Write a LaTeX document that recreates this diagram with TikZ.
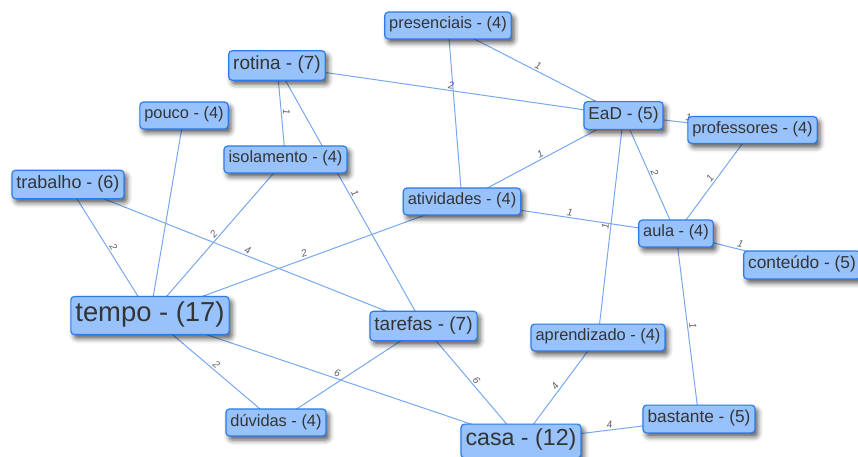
\documentclass[tikz,border=0pt]{standalone}
\usepackage{fontspec}
\setmainfont{Liberation Sans}
\usetikzlibrary{backgrounds,shadows.blur}

\definecolor{nodefill}{HTML}{97C2FC}
\definecolor{nodeborder}{HTML}{2B7CE9}
\definecolor{nodetext}{HTML}{343434}
\definecolor{edgeblue}{HTML}{78A8EE}
\definecolor{wtgray}{HTML}{606060}

\begin{document}
\begin{tikzpicture}[x=1pt, y=-1pt,
  word/.style={draw=nodeborder, fill=nodefill, text=nodetext, rounded corners=3.5pt,
    line width=1.2pt, inner xsep=4.5pt, inner ysep=5pt,
    font=\fontsize{#1}{#1}\selectfont, execute at begin node=\strut,
    blur shadow={shadow xshift=3pt, shadow yshift=-4pt, shadow blur radius=5pt, shadow opacity=65}},
  link/.style={draw=edgeblue, line width=1pt},
  wt/.style={midway, sloped, above, inner sep=1.5pt, text=wtgray, font=\fontsize{10}{10}\selectfont\itshape}]

\useasboundingbox (0,0) rectangle (858,457);

% NODES
\node[word=16.4] (presenciais) at (448,25.5) {presenciais - (4)};
\node[word=19] (rotina) at (277,65.5) {rotina - (7)};
\node[word=16.4] (pouco) at (184,115.5) {pouco - (4)};
\node[word=17.3] (ead) at (623.5,115.5) {EaD - (5)};
\node[word=16.4] (professores) at (752.5,130) {professores - (4)};
\node[word=16.4] (isolamento) at (285.5,159.5) {isolamento - (4)};
\node[word=18] (trabalho) at (68,184.5) {trabalho - (6)};
\node[word=16.4] (atividades) at (462,201.5) {atividades - (4)};
\node[word=16.4] (aula) at (676,233.5) {aula - (4)};
\node[word=17.3] (conteudo) at (802,265) {conteúdo - (5)};
\node[word=27.4] (tempo) at (150,315.5) {tempo - (17)};
\node[word=19] (tarefas) at (423.5,326) {tarefas - (7)};
\node[word=16.4] (aprendizado) at (598,337.5) {aprendizado - (4)};
\node[word=16.4] (duvidas) at (276,422.5) {dúvidas - (4)};
\node[word=17.3] (bastante) at (699,419) {bastante - (5)};
\node[word=23.2] (casa) at (521,441) {casa - (12)};

% EDGES
\begin{scope}[on background layer]
\draw[link] (presenciais.center) -- node[wt] {1} (ead.center);
\draw[link] (presenciais.center) -- (atividades.center);
\draw[link] (rotina.center) -- node[wt] {2} (ead.center);
\draw[link] (rotina.center) -- node[wt] {1} (isolamento.center);
\draw[link] (rotina.center) -- node[wt] {1} (tarefas.center);
\draw[link] (pouco.center) -- (tempo.center);
\draw[link] (isolamento.center) -- node[wt] {2} (tempo.center);
\draw[link] (trabalho.center) -- node[wt] {2} (tempo.center);
\draw[link] (trabalho.center) -- node[wt] {4} (tarefas.center);
\draw[link] (atividades.center) -- node[wt] {2} (tempo.center);
\draw[link] (atividades.center) -- node[wt] {1} (ead.center);
\draw[link] (atividades.center) -- node[wt] {1} (aula.center);
\draw[link] (ead.center) -- node[wt] {1} (professores.center);
\draw[link] (ead.center) -- node[wt] {2} (aula.center);
\draw[link] (ead.center) -- node[wt] {1} (aprendizado.center);
\draw[link] (professores.center) -- node[wt] {1} (aula.center);
\draw[link] (aula.center) -- node[wt] {1} (conteudo.center);
\draw[link] (aula.center) -- node[wt] {1} (bastante.center);
\draw[link] (tempo.center) -- node[wt] {2} (duvidas.center);
\draw[link] (tempo.center) -- node[wt] {6} (casa.center);
\draw[link] (tarefas.center) -- (duvidas.center);
\draw[link] (tarefas.center) -- node[wt] {6} (casa.center);
\draw[link] (aprendizado.center) -- node[wt] {4} (casa.center);
\draw[link] (casa.center) -- node[wt] {4} (bastante.center);
\end{scope}

\end{tikzpicture}
\end{document}
